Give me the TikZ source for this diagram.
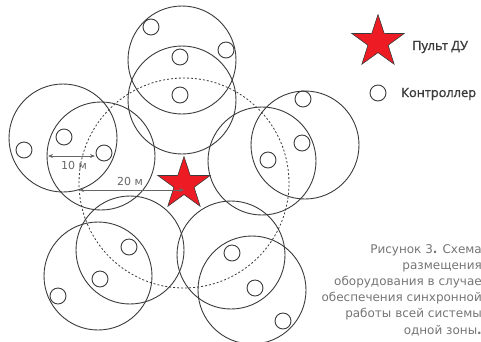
\documentclass[tikz,border=0pt]{standalone}
\usepackage{fontspec}
\setmainfont{Open Sans}
\newfontfamily\capfont{DejaVu Sans}
\newfontfamily\legfont[FakeBold=1.2]{Open Sans}
\usetikzlibrary{shapes.geometric,arrows.meta}
\definecolor{ln}{HTML}{3A3A3A}
\definecolor{starred}{HTML}{ED1C24}
\definecolor{capgray}{HTML}{757575}
\definecolor{arrgray}{HTML}{666666}
\begin{document}
\begin{tikzpicture}[x=1pt,y=-1pt,
  zone/.style={circle,draw=ln,line width=0.9pt,minimum size=108pt,inner sep=0pt},
  ctrl/.style={circle,draw=ln,line width=0.9pt,minimum size=16pt,inner sep=0pt},
  remote/.style={star,star points=5,star point ratio=2.6,minimum size=55pt,inner sep=0pt,fill=starred,draw=ln,line width=0.6pt},
  dim/.style={draw=arrgray,line width=0.8pt,{Stealth[length=5pt,width=4pt]}-{Stealth[length=5pt,width=4pt]}},
  dimlabel/.style={text=arrgray,font=\capfont\fontsize{11}{11}\selectfont,inner sep=0pt},
  legtext/.style={text=ln,font=\legfont\fontsize{12.8}{13}\selectfont,anchor=west,inner sep=0pt}]
\useasboundingbox (0,0) rectangle (481,341);
% range circle
\node[circle,draw=ln,line width=0.8pt,dash pattern=on 2pt off 2pt,minimum size=210pt,inner sep=0pt] (range) at (184,183) {};
% zones
\node[zone] (zA) at (182,60) {};
\node[zone] (zB) at (182,100) {};
\node[zone] (zC) at (63,138) {};
\node[zone] (zD) at (101,156) {};
\node[zone] (zE) at (305,145) {};
\node[zone] (zF) at (262,161) {};
\node[zone] (zG) at (130,250) {};
\node[zone] (zH) at (98,276) {};
\node[zone] (zI) at (231,255) {};
\node[zone] (zJ) at (252,290) {};
% controllers
\node[ctrl] (c1) at (151,27) {};
\node[ctrl] (c2) at (226,50) {};
\node[ctrl] (c3) at (180,57) {};
\node[ctrl] (c4) at (180,95) {};
\node[ctrl] (c5) at (64,137) {};
\node[ctrl] (c6) at (24,150) {};
\node[ctrl] (c7) at (104,153) {};
\node[ctrl] (c8) at (303,99) {};
\node[ctrl] (c9) at (302,143) {};
\node[ctrl] (c10) at (268,160) {};
\node[ctrl] (c11) at (129,247) {};
\node[ctrl] (c12) at (100,279) {};
\node[ctrl] (c13) at (58,296) {};
\node[ctrl] (c14) at (232,253) {};
\node[ctrl] (c15) at (255,288) {};
\node[ctrl] (c16) at (283,321) {};
% remote
\node[remote] (star) at (184,184) {};
% dimensions
\coordinate (d10a) at (48,156);
\coordinate (d10b) at (95,156);
\draw[dim] (d10a) -- (d10b);
\node[dimlabel] (l10) at (74,165) {10 м};
\coordinate (d20a) at (79,190);
\coordinate (d20b) at (184,190);
\draw[dim] (d20a) -- (d20b);
\node[dimlabel] (l20) at (130,181) {20 м};
% legend
\node[remote] (legstar) at (378,42) {};
\node[legtext] (legstart) at (412,47) {Пульт ДУ};
\node[ctrl] (legctrl) at (378,93) {};
\node[legtext] (legctrlt) at (401,94) {Контроллер};
% caption
\node[anchor=north east,align=right,text=capgray,inner sep=0pt,font=\capfont\fontsize{12}{16.2}\selectfont] (cap) at (482,244) {Рисунок 3\textbf{.} Схема\\размещения\\оборудования в случае\\обеспечения синхронной\\работы всей системы\\одной зоны\textbf{.}};
\end{tikzpicture}
\end{document}
